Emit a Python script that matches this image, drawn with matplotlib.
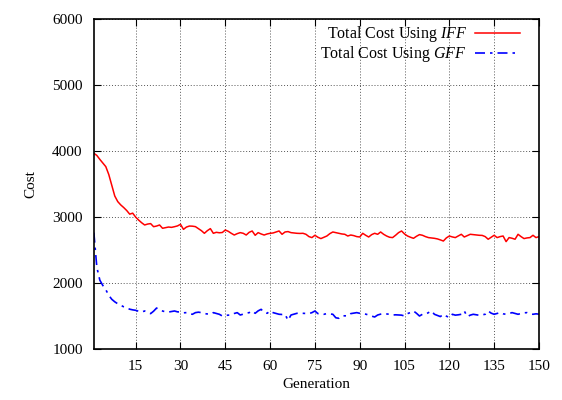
import numpy as np
import matplotlib.pyplot as plt

plt.rcParams['font.family'] = ['Liberation Serif', 'DejaVu Serif']
plt.rcParams['mathtext.fontset'] = 'custom'
plt.rcParams['mathtext.rm'] = 'Liberation Serif'
plt.rcParams['mathtext.it'] = 'Liberation Serif:italic'

generation = np.arange(1, 151)

cost_iff = [
  3962, 3930, 3870, 3815, 3760, 3640, 3480, 3315, 3230, 3180,
  3140, 3095, 3040, 3055, 2995, 2950, 2910, 2876, 2890, 2897,
  2850, 2860, 2876, 2826, 2835, 2845, 2840, 2850, 2862, 2886,
  2810, 2845, 2860, 2858, 2851, 2820, 2790, 2750, 2790, 2821,
  2750, 2765, 2758, 2762, 2800, 2780, 2750, 2724, 2745, 2760,
  2750, 2724, 2765, 2785, 2720, 2760, 2740, 2724, 2740, 2750,
  2755, 2770, 2785, 2735, 2770, 2776, 2760, 2755, 2750, 2748,
  2750, 2735, 2700, 2685, 2720, 2690, 2670, 2690, 2709, 2745,
  2770, 2760, 2750, 2740, 2735, 2709, 2724, 2715, 2700, 2694,
  2750, 2720, 2694, 2730, 2750, 2735, 2770, 2735, 2709, 2690,
  2685, 2720, 2760, 2785, 2740, 2709, 2690, 2674, 2705, 2730,
  2720, 2700, 2685, 2680, 2674, 2665, 2650, 2633, 2680, 2709,
  2695, 2685, 2710, 2735, 2694, 2715, 2735, 2730, 2725, 2720,
  2718, 2700, 2660, 2690, 2720, 2685, 2700, 2709, 2624, 2685,
  2675, 2660, 2735, 2700, 2670, 2680, 2685, 2720, 2685, 2700,
]

cost_gff = [
  2760, 2235, 2040, 1960, 1895, 1810, 1750, 1712, 1682, 1660,
  1636, 1618, 1600, 1590, 1583, 1568, 1557, 1573, 1553, 1533,
  1570, 1618, 1585, 1573, 1560, 1557, 1565, 1573, 1560, 1557,
  1545, 1548, 1530, 1523, 1548, 1555, 1548, 1533, 1528, 1523,
  1548, 1535, 1523, 1497, 1505, 1510, 1512, 1535, 1548, 1512,
  1525, 1540, 1548, 1573, 1538, 1575, 1598, 1550, 1538, 1573,
  1548, 1535, 1523, 1520, 1523, 1432, 1512, 1525, 1538, 1540,
  1538, 1535, 1533, 1548, 1573, 1533, 1530, 1523, 1533, 1528,
  1523, 1470, 1462, 1497, 1500, 1497, 1533, 1540, 1548, 1538,
  1533, 1525, 1512, 1495, 1482, 1512, 1525, 1533, 1528, 1523,
  1512, 1515, 1512, 1510, 1497, 1533, 1550, 1573, 1538, 1497,
  1523, 1523, 1548, 1573, 1523, 1505, 1488, 1523, 1495, 1473,
  1523, 1510, 1515, 1523, 1573, 1488, 1510, 1523, 1515, 1508,
  1515, 1523, 1573, 1540, 1523, 1535, 1548, 1530, 1523, 1535,
  1548, 1535, 1523, 1535, 1545, 1548, 1530, 1523, 1530, 1525,
]

xticks = [15, 30, 45, 60, 75, 90, 105, 120, 135, 150]
yticks = [1000, 2000, 3000, 4000, 5000, 6000]

fig = plt.figure(figsize=(5.62, 4.0), dpi=100)
ax = fig.add_axes([0.167, 0.128, 0.792, 0.825])

ax.plot(generation, cost_iff, color='red', lw=1.1, label=r'Total Cost Using $\mathit{IFF}$')
ax.plot(generation, cost_gff, color='blue', lw=1.2, ls=(0, (6, 3, 1.5, 3)),
        label=r'Total Cost Using $\mathit{GFF}$')

ax.set_xlim(1, 150)
ax.set_ylim(1000, 6000)
ax.set_xticks(xticks)
ax.set_yticks(yticks)
ax.grid(True, color='#555555', ls=(0, (1, 2)), lw=0.7)
ax.tick_params(direction='in', length=5, width=0.8, top=True, right=True, labelsize=11, pad=8)
for s in ax.spines.values():
  s.set_linewidth(1.2)

ax.set_xlabel('Generation', fontsize=11, labelpad=4)
ax.set_ylabel('Cost', fontsize=11, labelpad=11)

ax.legend(loc='upper right', frameon=False, markerfirst=False, fontsize=11.5,
          handlelength=2.8, handletextpad=0.5, labelspacing=0.0,
          borderaxespad=0.2, bbox_to_anchor=(0.978, 1.012))

plt.savefig('out.png', dpi=100)
